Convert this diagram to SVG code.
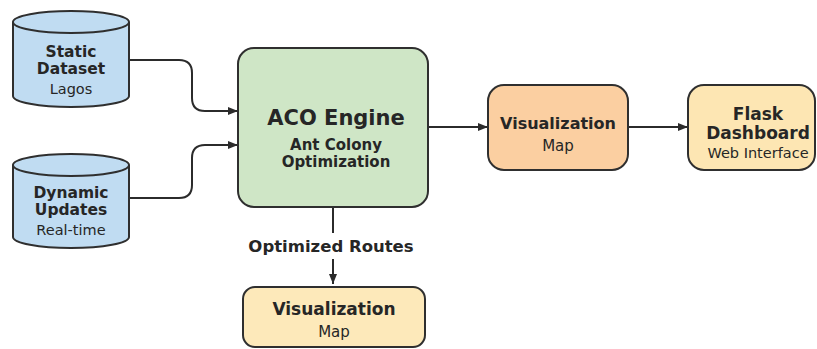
<svg xmlns="http://www.w3.org/2000/svg" width="817" height="349" viewBox="0 0 817 349">
<defs>
<marker id="ah" markerWidth="10" markerHeight="8" refX="10" refY="4" orient="auto" markerUnits="userSpaceOnUse">
<path d="M0,0 L10,4 L0,8 Z" fill="#2b2b2b"/>
</marker>
<style>
.sh{stroke:#2f2f2f;stroke-width:2}
.db{fill:#c0dcf2}
.t{font-family:"DejaVu Sans","Liberation Sans",sans-serif;fill:#262626;text-anchor:middle}
.b{font-weight:700}
.n{font-weight:400}
.c{fill:none;stroke:#2b2b2b;stroke-width:2}
</style>
</defs>
<rect width="817" height="349" fill="#ffffff"/>
<g id="connectors">
<path class="c" d="M129,60 H179 Q192,60 192,73 V98 Q192,111 205,111 H238" marker-end="url(#ah)"/>
<path class="c" d="M129,198 H179 Q192,198 192,185 V158 Q192,145 205,145 H238" marker-end="url(#ah)"/>
<path class="c" d="M428,127 H488" marker-end="url(#ah)"/>
<path class="c" d="M628,127 H688" marker-end="url(#ah)"/>
<path class="c" d="M333,207 V233"/>
<path class="c" d="M333,259 V284" marker-end="url(#ah)"/>
<text class="t b" x="331" y="252" font-size="16.5">Optimized Routes</text>
</g>
<g id="static-dataset">
<path class="sh db" d="M13,22 A58,11 0 0 1 129,22 V96 A58,11 0 0 1 13,96 Z"/>
<path class="sh" fill="none" d="M13,22 A58,11 0 0 0 129,22"/>
<text class="t b" x="71" y="57" font-size="15.5">Static</text>
<text class="t b" x="71" y="74" font-size="15.5">Dataset</text>
<text class="t n" x="71" y="94" font-size="14.5">Lagos</text>
</g>
<g id="dynamic-updates">
<path class="sh db" d="M13,165 A58,11 0 0 1 129,165 V237 A58,11 0 0 1 13,237 Z"/>
<path class="sh" fill="none" d="M13,165 A58,11 0 0 0 129,165"/>
<text class="t b" x="71" y="198" font-size="15.5">Dynamic</text>
<text class="t b" x="71" y="215" font-size="15.5">Updates</text>
<text class="t n" x="71" y="235" font-size="14.5">Real-time</text>
</g>
<g id="aco-engine">
<rect class="sh" x="238" y="48" width="190" height="159" rx="16" fill="#cfe6c6"/>
<text class="t b" x="336" y="125" font-size="21">ACO Engine</text>
<text class="t b" x="336" y="150" font-size="15">Ant Colony</text>
<text class="t b" x="336" y="167" font-size="15">Optimization</text>
</g>
<g id="visualization-1">
<rect class="sh" x="488" y="85" width="140" height="85" rx="16" fill="#fbcfa1"/>
<text class="t b" x="558" y="129" font-size="16">Visualization</text>
<text class="t n" x="558" y="151" font-size="15">Map</text>
</g>
<g id="flask-dashboard">
<rect class="sh" x="688" y="85" width="127" height="85" rx="16" fill="#fde6b3"/>
<text class="t b" x="758" y="120" font-size="17">Flask</text>
<text class="t b" x="758" y="139" font-size="17">Dashboard</text>
<text class="t n" x="758" y="158" font-size="14.5">Web Interface</text>
</g>
<g id="visualization-2">
<rect class="sh" x="243" y="287" width="182" height="60" rx="12" fill="#fde9ba"/>
<text class="t b" x="334" y="315" font-size="17">Visualization</text>
<text class="t n" x="334" y="337" font-size="15">Map</text>
</g>
</svg>
